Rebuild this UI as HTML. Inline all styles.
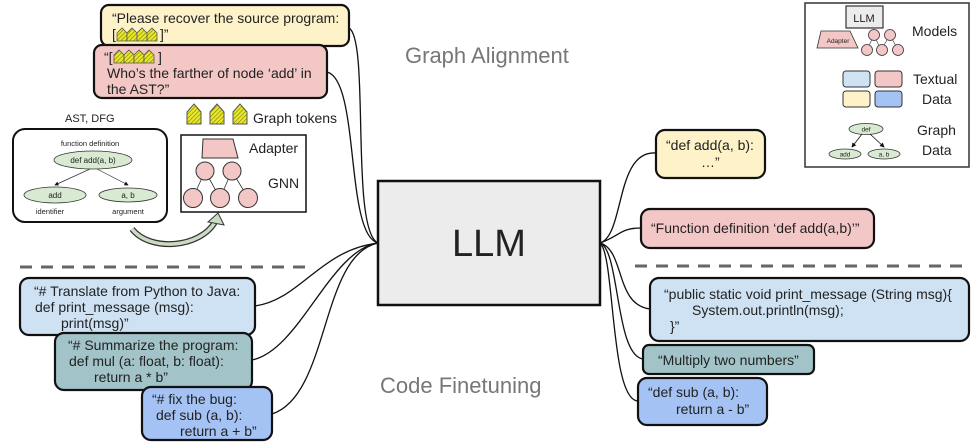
<!DOCTYPE html>
<html><head><meta charset="utf-8"><style>
body{margin:0;background:#fff}
svg{display:block}
text{font-family:"Liberation Sans",Arial,sans-serif;fill:#222}
</style></head><body>
<svg width="977" height="447" viewBox="0 0 977 447" xmlns="http://www.w3.org/2000/svg">
<defs>
<pattern id="hatch" width="3" height="3" patternUnits="userSpaceOnUse" patternTransform="rotate(45)">
<rect width="3" height="3" fill="#e8e830"/><line x1="0" y1="0" x2="0" y2="3" stroke="#7a7a00" stroke-width="1.2"/>
</pattern>
<marker id="ah" markerWidth="6" markerHeight="6" refX="5" refY="3" orient="auto"><path d="M0,0 L6,3 L0,6 z" fill="#111"/></marker>
</defs>

<!-- titles -->
<text x="405" y="63" font-size="22" fill="#777" style="fill:#777">Graph Alignment</text>
<text x="380" y="393" font-size="22" style="fill:#777">Code Finetuning</text>

<!-- dashed lines -->
<line x1="20" y1="267" x2="310" y2="267" stroke="#666" stroke-width="3" stroke-dasharray="12,9"/>
<line x1="635" y1="266" x2="970" y2="266" stroke="#666" stroke-width="3" stroke-dasharray="12,9"/>

<!-- connectors left -->
<g fill="none" stroke="#111" stroke-width="1.3">
<path d="M349,28 C370,40 350,230 378,243"/>
<path d="M327,72 C360,80 345,235 378,243"/>
<path d="M255,306 C300,300 320,250 378,243"/>
<path d="M252,360 C300,350 330,250 378,243"/>
<path d="M272,414 C330,395 320,255 378,243"/>
<path d="M600,243 C625,235 615,150 656,153"/>
<path d="M600,243 C620,236 620,228 641,228"/>
<path d="M600,243 C625,250 615,305 650,309"/>
<path d="M600,243 C620,250 615,355 643,359"/>
<path d="M600,243 C615,255 610,400 638,401"/>
</g>

<!-- LLM -->
<rect x="378" y="181" width="222" height="124" fill="#ececec" stroke="#111" stroke-width="2.5"/>
<text x="489" y="256" font-size="38" text-anchor="middle">LLM</text>

<!-- top-left text boxes -->
<rect x="101" y="5" width="248" height="41" rx="8" fill="#fdf2c8" stroke="#111" stroke-width="2.2"/>
<text x="112" y="23" font-size="14">“Please recover the source program:</text>
<text x="112" y="39" font-size="14">[</text>
<g fill="url(#hatch)" stroke="#555" stroke-width="0.8">
<path d="M117,41 v-8 l5,-5 l5,5 v8z"/><path d="M127,41 v-8 l5,-5 l5,5 v8z"/><path d="M137,41 v-8 l5,-5 l5,5 v8z"/><path d="M147,41 v-8 l5,-5 l5,5 v8z"/>
</g>
<text x="160" y="39" font-size="14">]”</text>

<rect x="94" y="45" width="233" height="53" rx="8" fill="#f4c7c7" stroke="#111" stroke-width="2.2"/>
<text x="104" y="62" font-size="14">“[</text>
<g fill="url(#hatch)" stroke="#555" stroke-width="0.8">
<path d="M114,63 v-8 l5,-5 l5,5 v8z"/><path d="M124,63 v-8 l5,-5 l5,5 v8z"/><path d="M134,63 v-8 l5,-5 l5,5 v8z"/><path d="M144,63 v-8 l5,-5 l5,5 v8z"/>
</g>
<text x="158" y="62" font-size="14">]</text>
<text x="107" y="78" font-size="14">Who’s the farther of node ‘add’ in</text>
<text x="107" y="94" font-size="14">the AST?”</text>

<!-- graph tokens -->
<g fill="url(#hatch)" stroke="#555" stroke-width="1">
<path d="M187,124 v-12 l7,-8 l7,8 v12z"/><path d="M210,124 v-12 l7,-8 l7,8 v12z"/><path d="M233,124 v-12 l7,-8 l7,8 v12z"/>
</g>
<text x="253" y="123" font-size="14">Graph tokens</text>

<!-- AST -->
<text x="65" y="122" font-size="11">AST, DFG</text>
<rect x="13" y="129" width="154" height="93" rx="12" fill="#fff" stroke="#111" stroke-width="2"/>
<text x="90" y="146" font-size="7.5" text-anchor="middle">function definition</text>
<ellipse cx="93" cy="160" rx="39" ry="9" fill="#d9ead3" stroke="#333" stroke-width="0.8"/>
<text x="93" y="163" font-size="8" text-anchor="middle">def add(a, b)</text>
<line x1="90" y1="169" x2="55" y2="185" stroke="#333" stroke-width="0.7" marker-end="url(#ah)"/>
<line x1="97" y1="169" x2="128" y2="185" stroke="#333" stroke-width="0.7" marker-end="url(#ah)"/>
<ellipse cx="55" cy="195" rx="31" ry="8" fill="#d9ead3" stroke="#333" stroke-width="0.8"/>
<text x="55" y="198" font-size="8" text-anchor="middle">add</text>
<ellipse cx="128" cy="195" rx="29" ry="7" fill="#d9ead3" stroke="#333" stroke-width="0.8"/>
<text x="128" y="198" font-size="8" text-anchor="middle">a, b</text>
<text x="50" y="214" font-size="7.5" text-anchor="middle">identifier</text>
<text x="128" y="214" font-size="7.5" text-anchor="middle">argument</text>

<!-- curved arrow -->
<path d="M132,229 C150,252 200,248 215,222" fill="none" stroke="#333" stroke-width="6"/>
<path d="M132,229 C150,252 200,248 215,222" fill="none" stroke="#c9dcc3" stroke-width="3.5"/>
<path d="M208,222 L218,213 L224,225 z" fill="#c9dcc3" stroke="#333" stroke-width="1"/>

<!-- GNN box -->
<rect x="181" y="135" width="125" height="77" fill="#fff" stroke="#111" stroke-width="1.5"/>
<path d="M203,139 L233,139 L238,158 L202,158 z" fill="#f4c7c7" stroke="#333" stroke-width="1"/>
<text x="249" y="153" font-size="14">Adapter</text>
<text x="268" y="188" font-size="14">GNN</text>
<g stroke="#333" stroke-width="0.8">
<line x1="205" y1="171" x2="193" y2="198"/><line x1="205" y1="171" x2="220" y2="198"/>
<line x1="232" y1="171" x2="220" y2="198"/><line x1="232" y1="171" x2="248" y2="198"/>
</g>
<g fill="#f4c7c7" stroke="#333" stroke-width="1">
<circle cx="205" cy="171" r="9"/><circle cx="232" cy="171" r="9"/>
<circle cx="193" cy="198" r="9.5"/><circle cx="220" cy="198" r="9.5"/><circle cx="248" cy="198" r="9.5"/>
</g>

<!-- bottom-left boxes -->
<rect x="20" y="278" width="235" height="57" rx="9" fill="#cfe2f3" stroke="#111" stroke-width="2.2"/>
<text x="34" y="296" font-size="14">“# Translate from Python to Java:</text>
<text x="35" y="312" font-size="14">def print_message (msg):</text>
<text x="61" y="328" font-size="14">print(msg)”</text>
<rect x="55" y="333" width="197" height="57" rx="9" fill="#a2c4c9" stroke="#111" stroke-width="2.2"/>
<text x="68" y="350" font-size="14">“# Summarize the program:</text>
<text x="69" y="366" font-size="14">def mul (a: float, b: float):</text>
<text x="94" y="382" font-size="14">return a * b”</text>
<rect x="142" y="387" width="130" height="53" rx="9" fill="#a4c2f4" stroke="#111" stroke-width="2.2"/>
<text x="152" y="404" font-size="14">“# fix the bug:</text>
<text x="156" y="420" font-size="14">def sub (a, b):</text>
<text x="180" y="436" font-size="14">return a + b”</text>

<!-- right boxes -->
<rect x="656" y="130" width="109" height="48" rx="9" fill="#fdf2c8" stroke="#111" stroke-width="2.2"/>
<text x="666" y="150" font-size="14">“def add(a, b):</text>
<text x="701" y="167" font-size="14">…”</text>
<rect x="641" y="209" width="233" height="39" rx="9" fill="#f4c7c7" stroke="#111" stroke-width="2.2"/>
<text x="651" y="233" font-size="14">“Function definition ‘def add(a,b)’”</text>
<rect x="650" y="278" width="319" height="63" rx="9" fill="#cfe2f3" stroke="#111" stroke-width="2.2"/>
<text x="664" y="299" font-size="14">“public static void print_message (String msg){</text>
<text x="692" y="315" font-size="14">System.out.println(msg);</text>
<text x="670" y="331" font-size="14">}”</text>
<rect x="643" y="345" width="171" height="29" rx="6" fill="#a2c4c9" stroke="#111" stroke-width="2.2"/>
<text x="658" y="365" font-size="14">“Multiply two numbers”</text>
<rect x="638" y="378" width="129" height="47" rx="9" fill="#a4c2f4" stroke="#111" stroke-width="2.2"/>
<text x="648" y="397" font-size="14">“def sub (a, b):</text>
<text x="676" y="414" font-size="14">return a - b”</text>

<!-- legend -->
<rect x="805" y="3" width="164" height="164" fill="#fff" stroke="#333" stroke-width="1.5"/>
<rect x="846" y="6" width="37" height="22" fill="#ececec" stroke="#333" stroke-width="1.2"/>
<text x="864" y="22" font-size="11" text-anchor="middle">LLM</text>
<path d="M821,31 L850,31 L858,48 L817,48 z" fill="#f4c7c7" stroke="#333" stroke-width="0.8"/>
<text x="838" y="43" font-size="6.5" text-anchor="middle">Adapter</text>
<g stroke="#333" stroke-width="0.6"><line x1="874" y1="35" x2="867" y2="50"/><line x1="874" y1="35" x2="881" y2="50"/><line x1="890" y1="35" x2="881" y2="50"/><line x1="890" y1="35" x2="898" y2="50"/></g>
<g fill="#f4c7c7" stroke="#333" stroke-width="0.8">
<circle cx="874" cy="35" r="5.5"/><circle cx="890" cy="35" r="5.5"/>
<circle cx="867" cy="50" r="5.5"/><circle cx="882" cy="50" r="5.5"/><circle cx="898" cy="50" r="5.5"/>
</g>
<text x="912" y="36" font-size="14">Models</text>
<rect x="843" y="71" width="27" height="16" rx="3" fill="#cfe2f3" stroke="#333" stroke-width="1"/>
<rect x="875" y="71" width="27" height="16" rx="3" fill="#f4c7c7" stroke="#333" stroke-width="1"/>
<rect x="843" y="91" width="27" height="16" rx="3" fill="#fdf2c8" stroke="#333" stroke-width="1"/>
<rect x="875" y="91" width="27" height="16" rx="3" fill="#a4c2f4" stroke="#333" stroke-width="1"/>
<text x="913" y="84" font-size="14">Textual</text>
<text x="922" y="104" font-size="14">Data</text>
<ellipse cx="866" cy="129" rx="17" ry="5.5" fill="#d9ead3" stroke="#333" stroke-width="0.8"/>
<text x="866" y="131.5" font-size="6.5" text-anchor="middle">def</text>
<line x1="862" y1="134" x2="852" y2="147" stroke="#111" stroke-width="0.8" marker-end="url(#ah)"/>
<line x1="870" y1="134" x2="884" y2="147" stroke="#111" stroke-width="0.8" marker-end="url(#ah)"/>
<ellipse cx="845" cy="154" rx="16" ry="5" fill="#d9ead3" stroke="#333" stroke-width="0.8"/>
<text x="845" y="156.5" font-size="6.5" text-anchor="middle">add</text>
<ellipse cx="884" cy="154" rx="16" ry="5" fill="#d9ead3" stroke="#333" stroke-width="0.8"/>
<text x="884" y="156.5" font-size="6.5" text-anchor="middle">a, b</text>
<text x="917" y="135" font-size="14">Graph</text>
<text x="922" y="155" font-size="14">Data</text>
</svg>
</body></html>
